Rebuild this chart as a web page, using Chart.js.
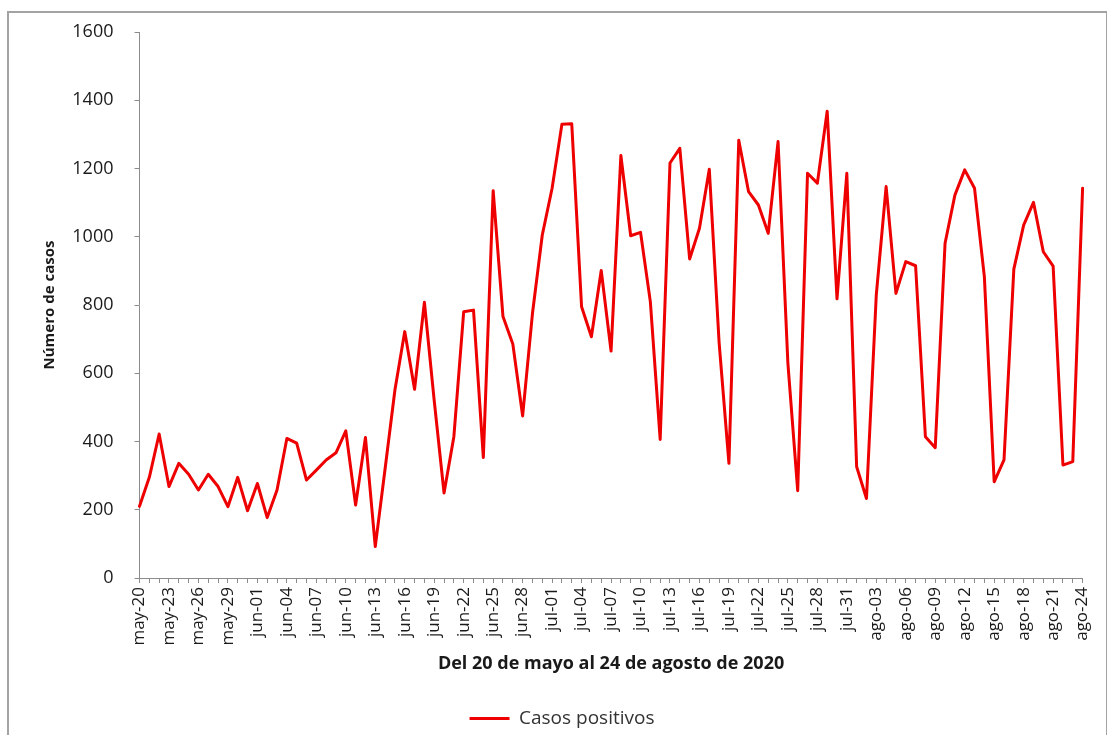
<!DOCTYPE html>
<html>
<head>
<meta charset="utf-8">
<script src="https://cdn.jsdelivr.net/npm/chart.js@4"></script>
<style>
  html, body { margin: 0; padding: 0; background: #fff; }
  #wrap { position: relative; width: 1107px; height: 735px; overflow: hidden; }
  #frame { position: absolute; left: 7px; top: 11px; width: 1097px; height: 740px; border: 2px solid #a3a3a3; }
  canvas { position: absolute; left: 0; top: 0; }
</style>
</head>
<body>
<div id="wrap">
  <div id="frame"></div>
  <canvas id="chart" width="1107" height="735"></canvas>
</div>
<script>
// months shown on the axis: [label, first day, last day]
const months = [['may', 20, 31], ['jun', 1, 30], ['jul', 1, 31], ['ago', 1, 24]];

const categories = [];
months.forEach(([m, from, to]) => {
    for (let d = from; d <= to; d++) {
        categories.push(m + '-' + String(d).padStart(2, '0'));
    }
});

// daily positive cases
const casosMayo   = [210, 295, 422, 268, 336, 304, 258, 304, 268, 209, 295, 197];
const casosJunio  = [277, 177, 258, 409, 395, 287, 316, 346, 367, 431, 214, 412, 92, 320, 551,
                     722, 553, 808, 520, 249, 414, 780, 785, 353, 1135, 766, 686, 475, 775, 1005];
const casosJulio  = [1142, 1330, 1331, 795, 707, 901, 665, 1238, 1003, 1013, 810, 406, 1216, 1259, 935,
                     1025, 1198, 690, 336, 1283, 1132, 1093, 1010, 1279, 630, 256, 1186, 1157, 1368, 818, 1186];
const casosAgosto = [326, 233, 830, 1147, 834, 927, 915, 414, 382, 981, 1122, 1196, 1142, 883, 282,
                     346, 905, 1034, 1101, 956, 914, 331, 341, 1142];

const casosPositivos = [...casosMayo, ...casosJunio, ...casosJulio, ...casosAgosto];

const axisGray = '#8c8c8c';
const textColor = '#1a1a1a';
const lineRed = '#ee0000';

new Chart(document.getElementById('chart'), {
    type: 'line',
    data: {
        labels: categories,
        datasets: [{
            label: 'Casos positivos',
            data: casosPositivos,
            borderColor: lineRed,
            backgroundColor: lineRed,
            borderWidth: 3,
            borderJoinStyle: 'round',
            borderCapStyle: 'round',
            pointRadius: 0,
            tension: 0,
            fill: false
        }]
    },
    options: {
        responsive: false,
        animation: false,
        layout: { padding: { left: 40, right: 23, top: 32, bottom: -3 } },
        scales: {
            x: {
                offset: false,
                grid: { drawOnChartArea: false, color: axisGray, tickLength: 5 },
                border: { color: axisGray, width: 1 },
                ticks: {
                    autoSkip: false,
                    minRotation: 90,
                    maxRotation: 90,
                    padding: 4,
                    color: textColor,
                    font: { family: 'Open Sans', size: 17 },
                    // only every third day gets a label, like the original
                    callback: function (value, index) {
                        return index % 3 === 0 ? this.getLabelForValue(value) : '';
                    }
                },
                title: {
                    display: true,
                    text: 'Del 20 de mayo al 24 de agosto de 2020',
                    color: textColor,
                    font: { family: 'Open Sans', size: 18, weight: 'bold' },
                    padding: { top: 0, bottom: 24 }
                },
                afterFit: (scale) => { scale.height = 121; }
            },
            y: {
                min: 0,
                max: 1600,
                grid: { drawOnChartArea: false, color: axisGray, tickLength: 5 },
                border: { color: axisGray, width: 1 },
                ticks: {
                    stepSize: 200,
                    padding: 21,
                    color: textColor,
                    font: { family: 'Open Sans', size: 18 },
                    callback: (value) => String(value)
                },
                title: {
                    display: true,
                    text: 'Número de casos',
                    color: textColor,
                    font: { family: 'Open Sans', size: 15, weight: 'bold' },
                    padding: { top: 1, bottom: 0 }
                },
                afterFit: (scale) => { scale.width = 99.5; }
            }
        },
        plugins: {
            legend: {
                position: 'bottom',
                labels: {
                    usePointStyle: true,
                    pointStyle: 'line',
                    pointStyleWidth: 40,
                    padding: 10,
                    color: '#333333',
                    font: { family: 'Open Sans', size: 19 }
                }
            },
            tooltip: { enabled: false }
        }
    }
});
</script>
</body>
</html>
